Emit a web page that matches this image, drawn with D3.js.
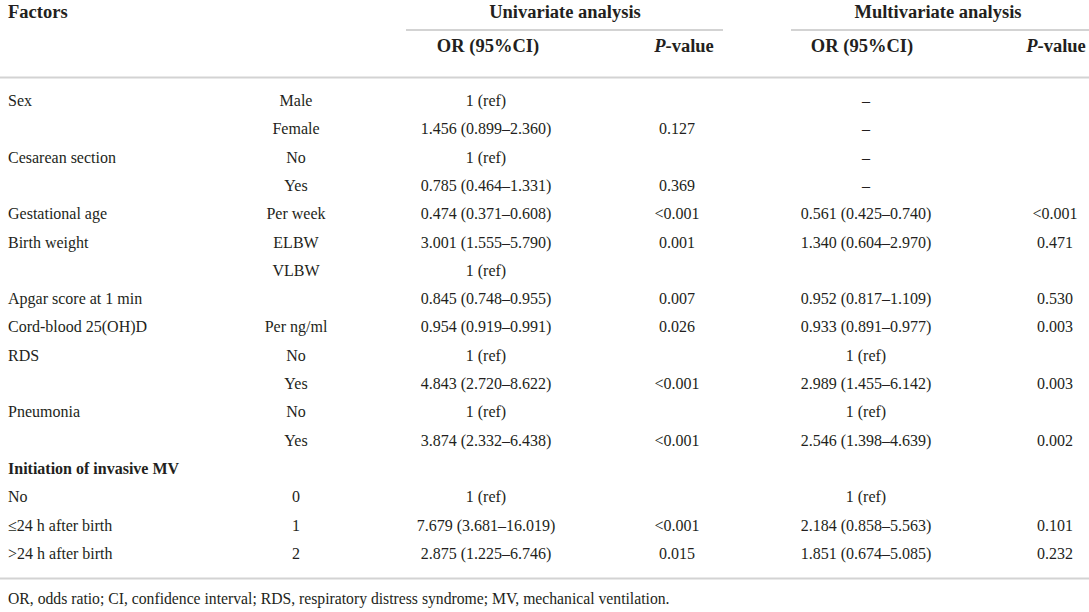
<!DOCTYPE html>
<html><head><meta charset="utf-8">
<script src="https://cdn.jsdelivr.net/npm/d3@7/dist/d3.min.js"></script>
<style>
html,body{margin:0;padding:0;background:#fff;}
svg{display:block;}
text{font-family:"Liberation Serif","Times New Roman",serif;fill:#231f20;}
</style></head>
<body>
<script>
const factors = ["Sex","","Cesarean section","","Gestational age","Birth weight","","Apgar score at 1 min","Cord-blood 25(OH)D","RDS","","Pneumonia","","Initiation of invasive MV","No","≤24 h after birth",">24 h after birth"];
const categories = ["Male","Female","No","Yes","Per week","ELBW","VLBW","","Per ng/ml","No","Yes","No","Yes","","0","1","2"];
const uniOR = ["1 (ref)","1.456 (0.899–2.360)","1 (ref)","0.785 (0.464–1.331)","0.474 (0.371–0.608)","3.001 (1.555–5.790)","1 (ref)","0.845 (0.748–0.955)","0.954 (0.919–0.991)","1 (ref)","4.843 (2.720–8.622)","1 (ref)","3.874 (2.332–6.438)","","1 (ref)","7.679 (3.681–16.019)","2.875 (1.225–6.746)"];
const uniP = ["","0.127","","0.369","<0.001","0.001","","0.007","0.026","","<0.001","","<0.001","","","<0.001","0.015"];
const multiOR = ["–","–","–","–","0.561 (0.425–0.740)","1.340 (0.604–2.970)","","0.952 (0.817–1.109)","0.933 (0.891–0.977)","1 (ref)","2.989 (1.455–6.142)","1 (ref)","2.546 (1.398–4.639)","","1 (ref)","2.184 (0.858–5.563)","1.851 (0.674–5.085)"];
const multiP = ["","","","","<0.001","0.471","","0.530","0.003","","0.003","","0.002","","","0.101","0.232"];
const boldRows = [13];
const groupHeaders = ["Univariate analysis","Multivariate analysis"];
const subHeaders = ["OR (95%CI)","P-value","OR (95%CI)","P-value"];
const footnote = "OR, odds ratio; CI, confidence interval; RDS, respiratory distress syndrome; MV, mechanical ventilation.";

const W = 1089, H = 612;
const svg = d3.select("body").append("svg").attr("width", W).attr("height", H);

const y = d3.scaleLinear().domain([0, factors.length - 1]).range([106, 106 + 16 * 28.3]);
const rows = d3.range(factors.length);

const lineColor = "#d3d3d3";
const bodySize = 16;
const headSize = 18.5;

const cols = [
  {data: factors, x: 8, anchor: "start"},
  {data: categories, x: 296, anchor: "middle"},
  {data: uniOR, x: 486, anchor: "middle"},
  {data: uniP, x: 677, anchor: "middle"},
  {data: multiOR, x: 866, anchor: "middle"},
  {data: multiP, x: 1055, anchor: "middle"}
];

svg.append("text").attr("x", 8).attr("y", 18).attr("font-size", headSize).attr("font-weight", "bold").text("Factors");
const groupPos = [{x: 565, l0: 406, l1: 723}, {x: 938, l0: 791, l1: 1089}];
groupHeaders.forEach((g, i) => {
  svg.append("text").attr("x", groupPos[i].x).attr("y", 18).attr("text-anchor", "middle")
    .attr("font-size", headSize).attr("font-weight", "bold").text(g);
  svg.append("line").attr("x1", groupPos[i].l0).attr("x2", groupPos[i].l1).attr("y1", 30).attr("y2", 30)
    .attr("stroke", lineColor).attr("stroke-width", 2);
});
const subPos = [488, 684, 862, 1056];
subHeaders.forEach((s, i) => {
  const t = svg.append("text").attr("x", subPos[i]).attr("y", 52).attr("text-anchor", "middle")
    .attr("font-size", headSize).attr("font-weight", "bold");
  if (s.startsWith("P-")) {
    t.append("tspan").attr("font-style", "italic").text("P");
    t.append("tspan").text(s.slice(1));
  } else t.text(s);
});
svg.append("line").attr("x1", 0).attr("x2", W).attr("y1", 77.5).attr("y2", 77.5)
  .attr("stroke", lineColor).attr("stroke-width", 2);

cols.forEach(c => {
  svg.append("g").selectAll("text").data(rows).join("text")
    .attr("x", c.x).attr("y", d => y(d)).attr("text-anchor", c.anchor)
    .attr("font-size", bodySize)
    .attr("font-weight", d => boldRows.includes(d) ? "bold" : "normal")
    .text(d => c.data[d]);
});

svg.append("line").attr("x1", 0).attr("x2", W).attr("y1", 578.5).attr("y2", 578.5)
  .attr("stroke", lineColor).attr("stroke-width", 2);
svg.append("text").attr("x", 8).attr("y", 604).attr("font-size", 15.7).text(footnote);
</script>
</body></html>
